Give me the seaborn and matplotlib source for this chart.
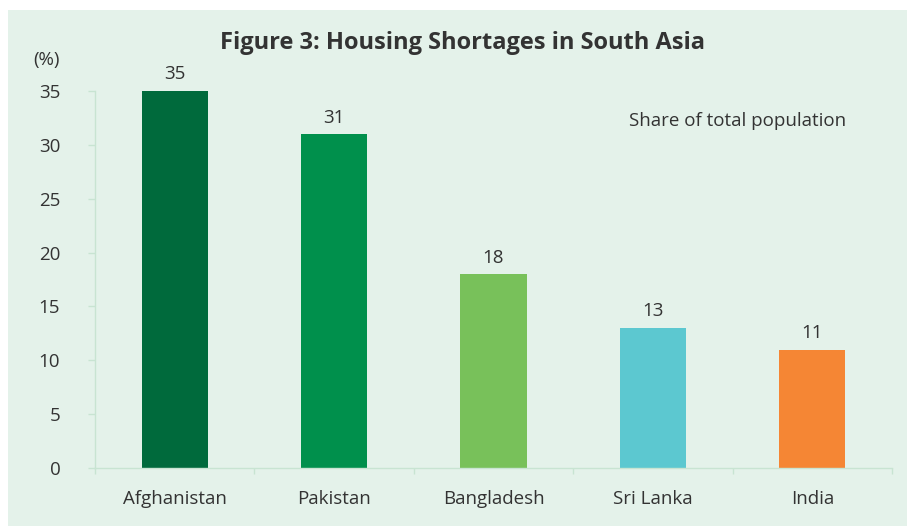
import matplotlib
matplotlib.use("Agg")
import matplotlib.pyplot as plt
import seaborn as sns
import pandas as pd
from matplotlib.patches import Rectangle

# --- data ---
countries = ["Afghanistan", "Pakistan", "Bangladesh", "Sri Lanka", "India"]
shortage_pct = [35, 31, 18, 13, 11]
bar_colors = ["#006a3c", "#00904c", "#78c15a", "#5cc8d0", "#f58634"]
y_ticks = [0, 5, 10, 15, 20, 25, 30, 35]

BG = "#e4f2ea"
AXIS = "#c8e4d2"
TEXT = "#333333"

sns.set_theme(style="white")
plt.rcParams["font.family"] = ["Open Sans", "DejaVu Sans"]

df = pd.DataFrame({"country": countries, "pct": shortage_pct})

fig = plt.figure(figsize=(9.07, 5.26), dpi=100, facecolor="white")
# light green panel behind the chart, white margin top/left
fig.patches.append(Rectangle((8 / 907, 0), 1 - 8 / 907, 1 - 10 / 526,
                             transform=fig.transFigure, facecolor=BG,
                             edgecolor="none", zorder=-5))
ax = fig.add_axes([95 / 907, 1 - 468 / 526, (892 - 95) / 907, (468 - 91) / 526])
ax.set_zorder(2)
ax.set_facecolor("none")

sns.barplot(data=df, x="country", y="pct", hue="country", palette=bar_colors,
            legend=False, width=0.415, ax=ax, saturation=1, linewidth=0)

ax.set_ylim(0, 35)
ax.set_xlim(-0.5, 4.5)
ax.set_yticks(y_ticks)
ax.set_xticks([i - 0.5 for i in range(6)], minor=True)
ax.tick_params(axis="x", which="major", bottom=False, length=0, pad=16,
               labelsize=13.5, labelcolor=TEXT)
ax.tick_params(axis="x", which="minor", bottom=True, length=4.5, width=1,
               color=AXIS, direction="out")
ax.tick_params(axis="y", left=True, length=5, width=1, color=AXIS, pad=20,
               labelsize=13.5, labelcolor=TEXT)
ax.set_xlabel("")
ax.set_ylabel("")

for side in ["top", "right"]:
    ax.spines[side].set_visible(False)
for side in ["left", "bottom"]:
    ax.spines[side].set_color(AXIS)
    ax.spines[side].set_linewidth(1)

for i, v in enumerate(shortage_pct):
    ax.text(i, v + 0.7, f"{v}", ha="center", va="bottom", fontsize=13.5, color=TEXT)

fig.text(462 / 907, 1 - 43 / 526, "Figure 3: Housing Shortages in South Asia",
         ha="center", va="center", fontsize=17, fontweight="bold", color=TEXT)
fig.text(46 / 907, 1 - 60 / 526, "(%)", ha="center", va="center", fontsize=13.5, color=TEXT)
ax.text(4.21, 32.2, "Share of total population", ha="right", va="center",
        fontsize=13.5, color=TEXT)

fig.savefig("out.png", dpi=100, facecolor="white")
